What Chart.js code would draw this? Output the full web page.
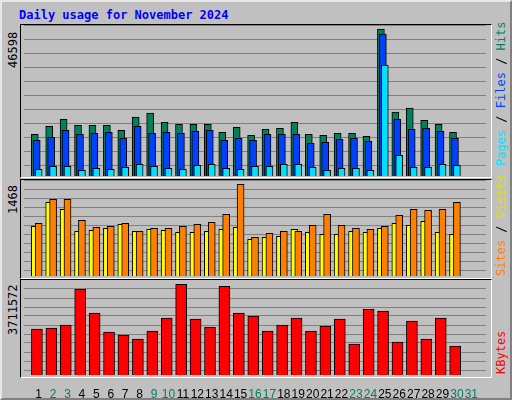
<!DOCTYPE html>
<html><head><meta charset="utf-8">
<script src="https://cdn.jsdelivr.net/npm/chart.js@4/dist/chart.umd.min.js"></script>
<style>
body{margin:0;background:#fff}
#wrap{position:relative;width:508px;height:396px;background:#c0c0c0;border-top:2px solid #e8e8e8;border-left:2px solid #e8e8e8;border-right:2px solid #808080;border-bottom:2px solid #808080;overflow:hidden;font-family:"DejaVu Sans Mono",monospace}
.frame{position:absolute;left:18px;width:470px;border-top:1px solid #000;border-left:1px solid #000;border-right:1px solid #fff;border-bottom:1px solid #fff}
canvas{position:absolute}
.rot{position:absolute;transform-origin:0 0;transform:rotate(-90deg);white-space:nowrap;font-size:12px}
</style></head><body>
<div id="wrap">
<div style="position:absolute;left:17px;top:6px;color:#0000ff;font-weight:bold;font-size:12px">Daily usage for November 2024</div>
<div class="frame" style="top:22px;height:152px"></div>
<div class="frame" style="top:177px;height:98px"></div>
<div class="frame" style="top:277px;height:97px"></div>
<div class="rot" style="left:4px;top:66px">46598</div>
<div class="rot" style="left:4px;top:212px">1468</div>
<div class="rot" style="left:4px;top:333px">3711572</div>
<div class="rot" style="left:492px;top:164px"><span style="color:#00e0ff">Pages</span> / <span style="color:#0040ff">Files</span> / <span style="color:#00805c">Hits</span></div>
<div class="rot" style="left:492px;top:274px"><span style="color:#ff8000">Sites</span> / <span style="color:#e0e000">Visits</span></div>
<div class="rot" style="left:492px;top:372px;color:#ff0000">KBytes</div>
<canvas id="c1" style="left:19px;top:23px" width="470" height="151"></canvas>
<canvas id="c2" style="left:19px;top:178px" width="470" height="96"></canvas>
<canvas id="c3" style="left:19px;top:278px" width="470" height="118"></canvas>
</div>
<script>
const days = Array.from({length:31},(_,i)=>i+1);
const hits = [13238,15779,18003,16097,16097,16097,14508,18638,19909,17050,16415,16415,16415,13873,15461,12920,14826,15144,17050,13238,12920,13555,13555,12602,46598,20227,21498,17685,16415,13873,null];
const files = [11331,12284,14508,13238,13555,13873,11967,15779,13555,13873,13555,14191,14508,11331,11967,11331,13238,13238,13238,10378,10696,11649,11967,11014,45007,18003,14826,15144,14191,11967,null];
const pages = [2118,3071,3071,1800,2436,2118,2753,3707,3071,2436,2118,3389,3707,2436,2118,3071,3071,3707,3707,2753,1800,2436,2436,1800,35159,6566,2753,2753,3707,3389,null];
const visits = [795,1180,1068,715,731,763,827,715,747,731,699,699,715,747,779,587,619,635,747,699,667,667,715,699,763,843,811,875,699,667,null];
const sites = [843,1228,1228,891,779,795,843,715,763,763,795,827,859,988,1468,619,683,715,715,811,988,811,763,747,795,971,1068,1052,1068,1180,null];
const kbytes = [1876110,1916895,2039250,3507510,2528670,1753755,1631400,1468260,1794540,2324745,3711572,2283960,1957680,3629865,2528670,2406315,1794540,2039250,2324745,1794540,1998465,2283960,1264335,2691810,2610240,1345905,2202390,1468260,2324745,1182765,null];
const weekend = [2,3,9,10,16,17,23,24,30,31];

Chart.defaults.animation=false;
const pts=(arr,dx)=>arr.map((v,i)=>({x:days[i]+dx,y:v}));
function yScale(max,h,off,step){
  return {display:true,min:0,max:max,border:{display:false},ticks:{display:false},
    grid:{color:'#808080',lineWidth:1,drawTicks:false},
    afterBuildTicks:s=>{const t=[];for(let p=off;p<h;p+=step)t.push({value:p*max/h});s.ticks=t;}};
}
function xScale(show){
  return {type:'linear',display:show,min:0.5,max:31.5,grid:{display:false},border:{display:false},
    afterBuildTicks:s=>{s.ticks=days.map(d=>({value:d}));},
    ticks:{display:show,maxRotation:0,autoSkip:false,padding:4,font:{family:'Liberation Sans',size:12},
      callback:v=>String(v),
      color:c=>weekend.includes(c.tick.value)?'#00805c':'#000'},
    afterFit:s=>{if(show)s.height=23;}};
}
const common=(yopt,show)=>({responsive:false,layout:{padding:{left:3,right:5}},
  datasets:{bar:{grouped:false}},
  plugins:{legend:{display:false},tooltip:{enabled:false}},
  scales:{x:xScale(show),y:yopt}});
const ds=(data,color,order,w)=>({data,backgroundColor:color,borderColor:'#000',borderWidth:1,order,barThickness:w,grouped:false});

new Chart(document.getElementById('c1'),{type:'bar',data:{datasets:[
 ds(pts(hits,-0.27),'#00805c',3,7),
 ds(pts(files,-0.135),'#0040ff',2,7),
 ds(pts(pages,0),'#00e0ff',1,7)]},
 options:common(yScale(47866,151,10.7,14),false)});
new Chart(document.getElementById('c2'),{type:'bar',data:{datasets:[
 ds(pts(visits,-0.27),'#ffff00',2,7),
 ds(pts(sites,0),'#ff8000',1,7)]},
 options:common(yScale(1537,96,5.7,9),false)});
new Chart(document.getElementById('c3'),{type:'bar',data:{datasets:[
 ds(pts(kbytes,-0.12),'#ff0000',1,11)]},
 options:common(yScale(3887000,95,5,9),true)});
</script>
</body></html>
